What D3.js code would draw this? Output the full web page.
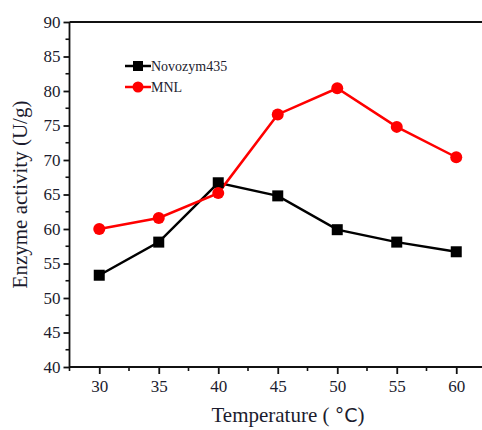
<!DOCTYPE html>
<html><head><meta charset="utf-8">
<script src="https://cdn.jsdelivr.net/npm/d3@7"></script>
<style>body{margin:0;background:#fff}svg{display:block}text{font-family:"Liberation Serif","Times New Roman",serif}</style>
</head><body>
<script>
const temperatures = [30, 35, 40, 45, 50, 55, 60];
const novozym = [53.3, 58.1, 66.7, 64.8, 59.9, 58.1, 56.7];
const mnl = [60.0, 61.6, 65.2, 76.6, 80.4, 74.8, 70.4];
const xTicks = [30, 35, 40, 45, 50, 55, 60];
const yTicks = [40, 45, 50, 55, 60, 65, 70, 75, 80, 85, 90];
const seriesNames = ["Novozym435", "MNL"];

const W = 482, H = 430;
const serif = '"Liberation Serif","Times New Roman",serif';
const svg = d3.select("body").append("svg").attr("width", W).attr("height", H);
const x = d3.scaleLinear().domain([27.5, 62.5]).range([69.5, 486]);
const y = d3.scaleLinear().domain([40, 90]).range([367, 22]);

// top frame line
svg.append("line").attr("x1", x(27.5)).attr("x2", W + 5).attr("y1", y(90)).attr("y2", y(90))
  .attr("stroke", "#111").attr("stroke-width", 1.8);

// x axis
const minorX = d3.range(27.5, 62.6, 5);
const gx = svg.append("g").attr("transform", `translate(0,${y(40)})`);
gx.call(d3.axisBottom(x).tickValues(xTicks).tickSize(7).tickPadding(6).tickFormat(d3.format("d")));
gx.append("g").selectAll("line").data(minorX).join("line")
  .attr("x1", d => x(d)).attr("x2", d => x(d)).attr("y1", 0).attr("y2", 4)
  .attr("stroke", "#111").attr("stroke-width", 1.6);

// y axis
const minorY = d3.range(42.5, 90, 5);
const gy = svg.append("g").attr("transform", `translate(${x(27.5)},0)`);
gy.call(d3.axisLeft(y).tickValues(yTicks).tickSize(6).tickPadding(3).tickFormat(d3.format("d")));
gy.append("g").selectAll("line").data(minorY).join("line")
  .attr("x1", 0).attr("x2", -4).attr("y1", d => y(d)).attr("y2", d => y(d))
  .attr("stroke", "#111").attr("stroke-width", 1.6);

[gx, gy].forEach(g => {
  g.attr("font-family", serif).attr("font-size", 17);
  g.select(".domain").attr("stroke", "#111").attr("stroke-width", 1.8);
  g.selectAll(".tick line").attr("stroke", "#111").attr("stroke-width", 1.8);
  g.selectAll(".tick text").attr("fill", "#1c1c2e").attr("font-family", serif).attr("font-size", 17);
});
gy.select(".domain").attr("d", `M0,${y(90)}V${y(40)}`);
gx.select(".domain").attr("d", `M${x(27.5)},0H${W + 5}`);

// axis titles
svg.append("text").attr("transform", `translate(27,${(y(40)+y(90))/2}) rotate(-90)`)
  .attr("text-anchor", "middle").attr("font-family", serif).attr("font-size", 21).attr("fill", "#1c1c2e")
  .text("Enzyme activity (U/g)");
const xt = svg.append("text").attr("x", 288).attr("y", 422).attr("text-anchor", "middle")
  .attr("font-family", serif).attr("font-size", 21).attr("fill", "#1c1c2e");
xt.append("tspan").text("Temperature (  ");
xt.append("tspan").attr("font-family", '"DejaVu Sans",sans-serif').attr("font-size", 19).text("°C");
xt.append("tspan").text(")");

// lines
const line = d3.line().x((d, i) => x(temperatures[i])).y(d => y(d));
svg.append("path").datum(novozym).attr("d", line).attr("fill", "none").attr("stroke", "#000").attr("stroke-width", 2.5);
svg.append("path").datum(mnl).attr("d", line).attr("fill", "none").attr("stroke", "#ff0000").attr("stroke-width", 2.5);

svg.append("g").selectAll("rect").data(novozym).join("rect")
  .attr("x", (d, i) => x(temperatures[i]) - 5.5).attr("y", d => y(d) - 5.5)
  .attr("width", 11).attr("height", 11).attr("fill", "#000");
svg.append("g").selectAll("circle").data(mnl).join("circle")
  .attr("cx", (d, i) => x(temperatures[i])).attr("cy", d => y(d)).attr("r", 6).attr("fill", "#ff0000");

// legend
const lg = svg.append("g");
const ly = [66, 87];
lg.append("line").attr("x1", 125).attr("x2", 151).attr("y1", ly[0]).attr("y2", ly[0]).attr("stroke", "#000").attr("stroke-width", 2.5);
lg.append("rect").attr("x", 133).attr("y", ly[0] - 5).attr("width", 10).attr("height", 10).attr("fill", "#000");
lg.append("line").attr("x1", 125).attr("x2", 151).attr("y1", ly[1]).attr("y2", ly[1]).attr("stroke", "#ff0000").attr("stroke-width", 2.5);
lg.append("circle").attr("cx", 138).attr("cy", ly[1]).attr("r", 5.5).attr("fill", "#ff0000");
lg.selectAll("text").data(seriesNames).join("text")
  .attr("x", 151).attr("y", (d, i) => ly[i] + 5).attr("font-family", serif).attr("font-size", 14).attr("fill", "#1c1c2e")
  .text(d => d);
</script>
</body></html>
